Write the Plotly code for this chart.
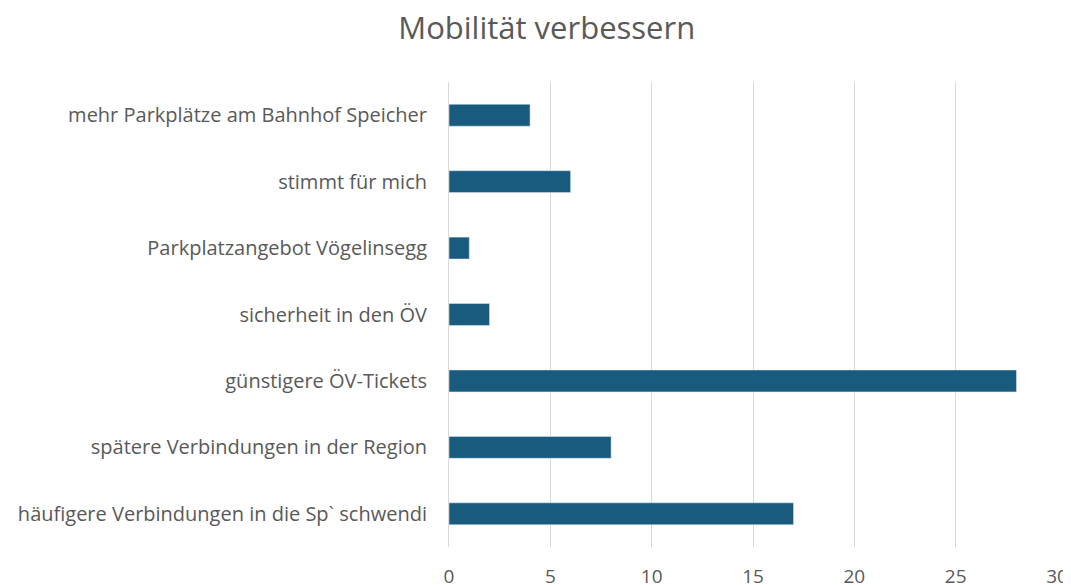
import plotly.graph_objects as go

# categories listed bottom to top, as drawn
categories = [
    "häufigere Verbindungen in die Sp` schwendi",
    "spätere Verbindungen in der Region",
    "günstigere ÖV-Tickets",
    "sicherheit in den ÖV",
    "Parkplatzangebot Vögelinsegg",
    "stimmt für mich",
    "mehr Parkplätze am Bahnhof Speicher",
]
values = [17, 8, 28, 2, 1, 6, 4]
x_ticks = [0, 5, 10, 15, 20, 25, 30]

grey = "#595959"

fig = go.Figure(go.Bar(
    x=values,
    y=categories,
    orientation="h",
    marker_color="#185b7e",
    width=0.33,
))

# page body adds 8px offset, margins compensate for it
fig.update_layout(
    width=1071,
    height=585,
    paper_bgcolor="white",
    plot_bgcolor="white",
    font=dict(family="Open Sans, sans-serif", color=grey, size=20),
    title=dict(text="Mobilität verbessern", x=0.503, xanchor="center",
               y=0.966, yanchor="middle",
               font=dict(size=31, color=grey, family="Open Sans, sans-serif")),
    margin=dict(l=441, r=22, t=74, b=46),
    showlegend=False,
    bargap=0.67,
)
fig.update_xaxes(
    range=[0, 30],
    tickvals=x_ticks,
    showgrid=True,
    gridcolor="#d9d9d9",
    gridwidth=1,
    zeroline=False,
    tickfont=dict(size=19, color=grey),
    ticklabelstandoff=16,
    automargin=False,
    fixedrange=True,
)
fig.update_yaxes(
    categoryorder="array",
    categoryarray=categories,
    showline=True,
    linecolor="#d9d9d9",
    ticks="",
    ticklabelstandoff=17,
    automargin=False,
    tickfont=dict(size=20, color=grey),
    fixedrange=True,
)

fig.write_html("out.html")
